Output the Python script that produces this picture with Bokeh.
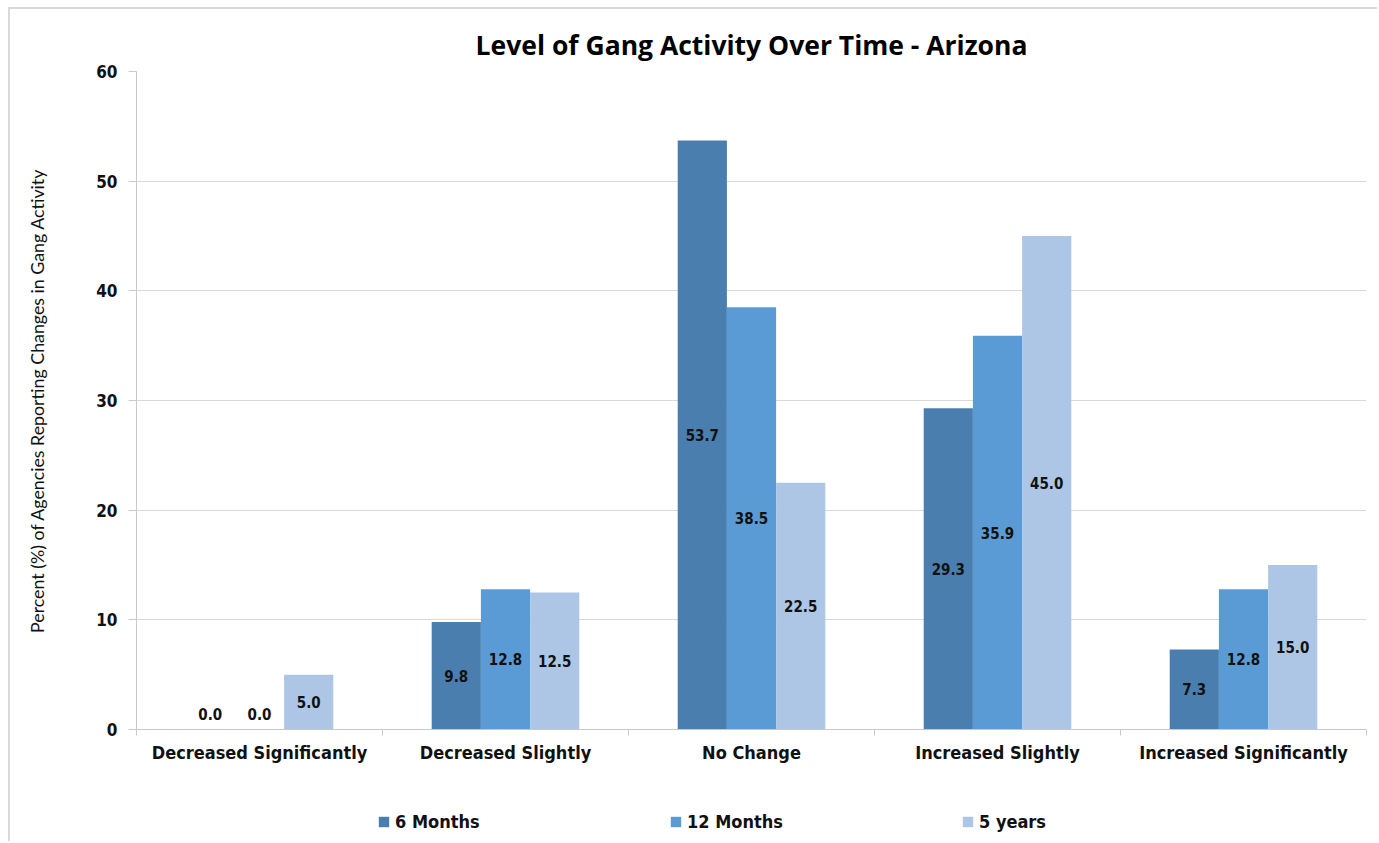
from bokeh.plotting import figure
from bokeh.layouts import column
from bokeh.models import (ColumnDataSource, FixedTicker, Legend, LegendItem)
from bokeh.core.properties import value
from bokeh.embed import file_html
from bokeh.resources import INLINE
import numpy as np

categories = ["Decreased Significantly", "Decreased Slightly", "No Change",
              "Increased Slightly", "Increased Significantly"]
series_names = ["6 Months", "12 Months", "5 years"]
six_months = [0.0, 9.8, 53.7, 29.3, 7.3]
twelve_months = [0.0, 12.8, 38.5, 35.9, 12.8]
five_years = [5.0, 12.5, 22.5, 45.0, 15.0]
y_ticks = [0, 10, 20, 30, 40, 50, 60]

series_values = [six_months, twelve_months, five_years]
colors = ["#4A7EAF", "#5B9BD5", "#ADC6E6"]
offsets = [-0.2, 0.0, 0.2]
bar_width = 0.2

LABEL_FONT = "DejaVu Sans Condensed"
W = 1367

p = figure(width=W, height=781, output_backend="svg", toolbar_location=None,
           x_range=(0, len(categories)), y_range=(0, 60),
           title="Level of Gang Activity Over Time - Arizona",
           min_border_left=126, min_border_right=11, min_border_top=62,
           min_border_bottom=61)
p.outline_line_color = None
p.background_fill_color = "white"
p.border_fill_color = "white"

p.title.align = "center"
p.title.text_font = "Open Sans"
p.title.text_font_size = "26.5px"
p.title.text_font_style = "bold"
p.title.text_color = "#000000"
p.title.standoff = 17

centers = np.arange(len(categories)) + 0.5
sources = []
for vals, col, off in zip(series_values, colors, offsets):
    src = ColumnDataSource(dict(x=centers + off, top=vals))
    sources.append(src)
    p.vbar(x="x", top="top", width=bar_width, source=src,
           fill_color=col, line_color=None)

# data labels (centered in each bar, zero values lifted just above the axis)
lx, ly, lt = [], [], []
for vals, off in zip(series_values, offsets):
    for c, v in zip(centers, vals):
        lx.append(c + off)
        ly.append(max(v / 2.0, 1.45))
        lt.append("%.1f" % v)
lsrc = ColumnDataSource(dict(x=lx, y=ly, t=lt))
p.text(x="x", y="y", text="t", source=lsrc, text_align="center",
       text_baseline="middle", text_font=value(LABEL_FONT),
       text_font_style="bold", text_font_size="15px", text_color="#111111")

# x axis
xa = p.xaxis[0]
xa.ticker = FixedTicker(ticks=list(centers), minor_ticks=list(range(len(categories) + 1)))
xa.major_label_overrides = {float(c): cat for c, cat in zip(centers, categories)}
xa.major_tick_out = 0
xa.major_tick_in = 0
xa.minor_tick_out = 6
xa.minor_tick_in = 0
xa.minor_tick_line_color = "#c8c8c8"
xa.axis_line_color = "#c8c8c8"
xa.major_label_text_font = LABEL_FONT
xa.major_label_text_font_style = "bold"
xa.major_label_text_font_size = "18px"
xa.major_label_text_color = "#111111"
xa.major_label_standoff = 6

# y axis
ya = p.yaxis[0]
ya.ticker = FixedTicker(ticks=y_ticks)
ya.major_tick_out = 8
ya.major_tick_in = 0
ya.minor_tick_out = 0
ya.minor_tick_in = 0
ya.major_tick_line_color = "#c8c8c8"
ya.axis_line_color = "#c8c8c8"
ya.major_label_text_font = LABEL_FONT
ya.major_label_text_font_style = "bold"
ya.major_label_text_font_size = "17px"
ya.major_label_text_color = "#111111"
ya.major_label_standoff = 11
ya.axis_label = "Percent (%) of Agencies Reporting Changes in Gang Activity"
ya.axis_label_text_font = "Lato"
ya.axis_label_text_font_style = "normal"
ya.axis_label_text_font_size = "17.8px"
ya.axis_label_text_color = "#111111"
ya.axis_label_standoff = 45

p.xgrid.grid_line_color = None
p.ygrid.grid_line_color = "#d9d9d9"
p.ygrid.grid_line_width = 1

# legend strip below the chart: its zero-width bars lie far outside its
# visible ranges, so only the legend swatches show
lf = figure(width=W, height=51, output_backend="svg", toolbar_location=None,
            x_range=(1000, 1001), y_range=(1000, 1001), min_border=0)
lf.axis.visible = False
lf.grid.grid_line_color = None
lf.outline_line_color = None
lf.border_fill_color = "white"
lf.background_fill_color = "white"
legend_renderers = []
for src, col in zip(sources, colors):
    legend_renderers.append(lf.vbar(x="x", top="top", width=0, source=src,
                                    fill_color=col, line_color=None))

legend = Legend(items=[LegendItem(label=n, renderers=[r]) for n, r in zip(series_names, legend_renderers)],
                orientation="horizontal", location=(241, 9),
                glyph_width=13, glyph_height=13, label_standoff=5,
                label_width=274, spacing=0, padding=0, margin=0,
                border_line_color=None, background_fill_alpha=0)
legend.label_text_font = LABEL_FONT
legend.label_text_font_style = "bold"
legend.label_text_font_size = "18px"
legend.label_text_color = "#111111"
lf.add_layout(legend)

layout = column(p, lf, spacing=0)
layout.styles = {"margin-left": "8px", "margin-top": "7px",
                 "border-left": "2px solid #d9d9d9", "border-top": "2px solid #d9d9d9"}

open("out.html", "w").write(file_html(layout, INLINE))
